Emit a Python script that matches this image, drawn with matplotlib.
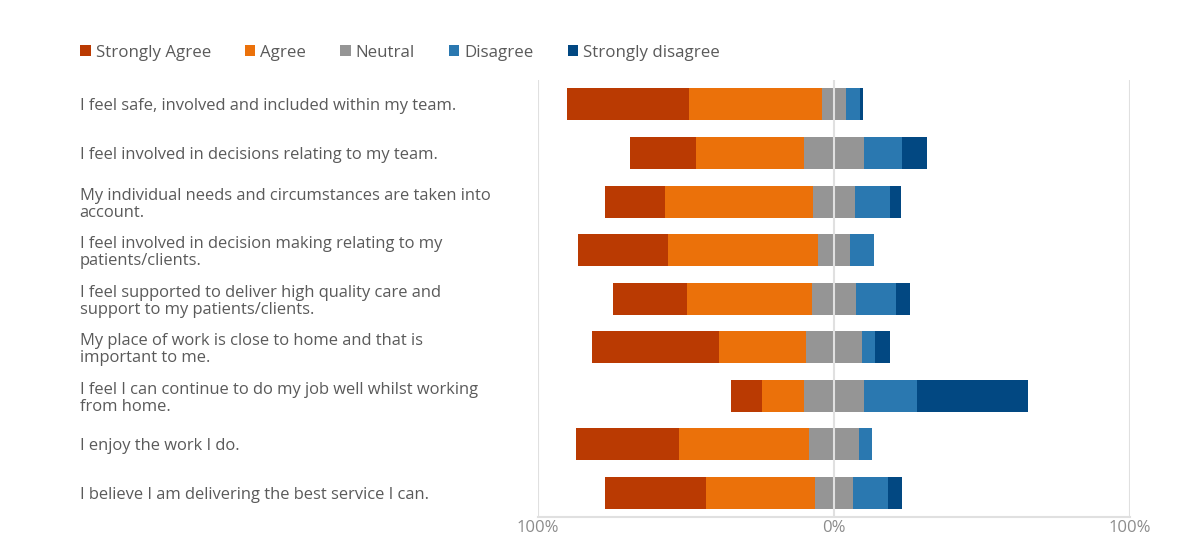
"""Diverging stacked bar chart of staff survey responses."""

import matplotlib

matplotlib.use("Agg")
import matplotlib.pyplot as plt  # noqa: E402
import numpy as np  # noqa: E402

statements = [
    "I feel safe, involved and included within my team.",
    "I feel involved in decisions relating to my team.",
    "My individual needs and circumstances are taken into\naccount.",
    "I feel involved in decision making relating to my\npatients/clients.",
    "I feel supported to deliver high quality care and\nsupport to my patients/clients.",
    "My place of work is close to home and that is\nimportant to me.",
    "I feel I can continue to do my job well whilst working\nfrom home.",
    "I enjoy the work I do.",
    "I believe I am delivering the best service I can.",
]

strongly_agree = [41.1, 22.4, 20.2, 30.4, 24.8, 42.7, 10.6, 35.0, 34.1]
agree = [45.0, 36.6, 50.1, 50.7, 42.2, 29.4, 14.2, 43.8, 36.7]
neutral = [8.2, 20.1, 14.3, 11.0, 15.1, 19.1, 20.1, 16.9, 12.9]
disagree = [4.7, 12.9, 11.9, 8.0, 13.2, 4.4, 17.8, 4.3, 11.9]
strongly_disagree = [1.1, 8.3, 3.6, 0.0, 5.0, 4.8, 37.6, 0.0, 4.6]

categories = ["Strongly Agree", "Agree", "Neutral", "Disagree", "Strongly disagree"]
colors = ["#BA3A02", "#EB710A", "#959595", "#2A78B0", "#024882"]

x_ticks = [-100, 0, 100]
x_tick_labels = ["100%", "0%", "100%"]

TEXT = "#5A5A5A"


def main():
    plt.rcParams["font.family"] = ["Open Sans", "DejaVu Sans"]

    series = np.array([strongly_agree, agree, neutral, disagree, strongly_disagree])
    # neutral straddles zero, agree side goes left
    start = -(series[0] + series[1] + series[2] / 2)
    y = np.arange(len(statements))

    fig = plt.figure(figsize=(12.01, 5.53), dpi=100)
    ax = fig.add_axes([0.448, 0.065, 0.493, 0.790])

    handles = []
    left = start.copy()
    for vals, name, col in zip(series, categories, colors):
        h = ax.barh(y, vals, left=left, height=0.66, color=col, label=name, zorder=2)
        handles.append(h)
        left = left + vals

    ax.set_xlim(-100, 100)
    ax.set_ylim(len(statements) - 0.5, -0.5)

    for xv in x_ticks:
        ax.axvline(xv, color="#E0E0E0", lw=1.5, zorder=3)
    for s in ["top", "right", "left"]:
        ax.spines[s].set_visible(False)
    ax.spines["bottom"].set_color("#E0E0E0")
    ax.spines["bottom"].set_linewidth(1.5)

    ax.set_xticks(x_ticks)
    ax.set_xticklabels(x_tick_labels, color="#8C8C8C", fontsize=12)
    ax.tick_params(axis="x", length=0, pad=2)

    ax.set_yticks(y)
    ax.set_yticklabels(statements, fontsize=11.9, color=TEXT, ha="left", linespacing=1.1)
    ax.tick_params(axis="y", length=0, pad=330)

    fig.legend(
        handles,
        categories,
        loc="center left",
        bbox_to_anchor=(0.054, 0.905),
        ncol=5,
        frameon=False,
        fontsize=12.2,
        handlelength=0.62,
        handleheight=0.62,
        handletextpad=0.3,
        columnspacing=2.0,
        labelcolor=TEXT,
    )

    fig.savefig("out.png", dpi=100)


if __name__ == "__main__":
    main()
